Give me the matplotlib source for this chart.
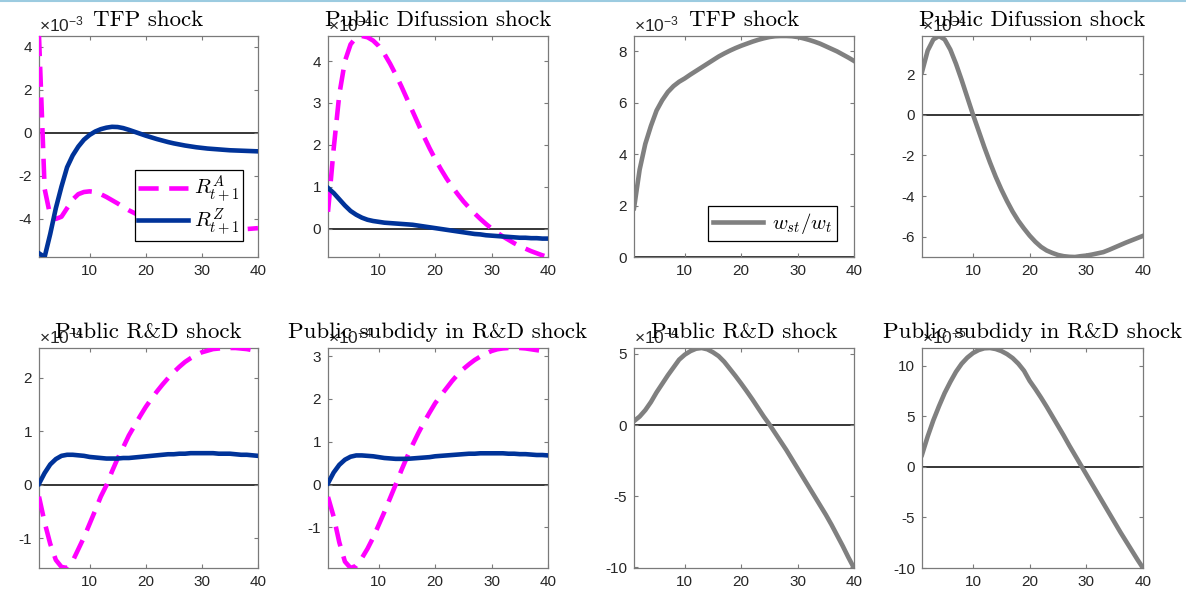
import numpy as np
import matplotlib
matplotlib.use('Agg')
import matplotlib.pyplot as plt
from matplotlib.ticker import MultipleLocator
from matplotlib.lines import Line2D

plt.rcParams['font.family'] = ['Liberation Sans', 'DejaVu Sans']
plt.rcParams['mathtext.fontset'] = 'custom'
plt.rcParams['mathtext.rm'] = 'Liberation Sans'
plt.rcParams['mathtext.it'] = 'Liberation Sans:italic'
plt.rcParams['axes.unicode_minus'] = False

periods = np.arange(1, 41)

# TFP shock, x1e-3
tfp_RA = [4.5, -2.6, -3.85, -4.0, -3.9, -3.5, -3.1, -2.85, -2.75, -2.72,
          -2.75, -2.85, -2.98, -3.13, -3.28, -3.45, -3.6, -3.73, -3.86, -3.97,
          -4.07, -4.16, -4.24, -4.31, -4.37, -4.42, -4.46, -4.49, -4.51, -4.53,
          -4.54, -4.54, -4.54, -4.53, -4.52, -4.50, -4.49, -4.47, -4.45, -4.43]
tfp_RZ = [-5.6, -5.77, -4.7, -3.5, -2.5, -1.6, -1.05, -0.64, -0.32, -0.1,
          0.06, 0.17, 0.24, 0.28, 0.27, 0.22, 0.14, 0.05, -0.04, -0.13,
          -0.21, -0.29, -0.36, -0.43, -0.49, -0.54, -0.59, -0.63, -0.67, -0.70,
          -0.73, -0.75, -0.77, -0.79, -0.81, -0.82, -0.83, -0.84, -0.85, -0.86]
tfp_w = [1.9, 3.4, 4.4, 5.1, 5.7, 6.1, 6.42, 6.65, 6.82, 6.95,
         7.1, 7.24, 7.38, 7.52, 7.66, 7.8, 7.92, 8.03, 8.13, 8.22,
         8.3, 8.38, 8.45, 8.51, 8.56, 8.59, 8.6, 8.6, 8.59, 8.56,
         8.51, 8.45, 8.38, 8.3, 8.2, 8.1, 8.0, 7.88, 7.76, 7.63]

# Public diffusion shock, x1e-4
dif_RA = [0.4, 1.9, 3.2, 4.0, 4.4, 4.57, 4.6, 4.57, 4.49, 4.36,
          4.17, 3.94, 3.68, 3.40, 3.1, 2.8, 2.5, 2.2, 1.92, 1.66,
          1.42, 1.2, 1.0, 0.82, 0.65, 0.5, 0.36, 0.23, 0.11, 0.0,
          -0.1, -0.19, -0.27, -0.35, -0.42, -0.48, -0.54, -0.59, -0.64, -0.68]
dif_RZ = [0.97, 0.85, 0.7, 0.55, 0.42, 0.33, 0.26, 0.21, 0.18, 0.16,
          0.14, 0.13, 0.12, 0.11, 0.1, 0.09, 0.07, 0.05, 0.03, 0.01,
          -0.01, -0.03, -0.05, -0.07, -0.09, -0.11, -0.13, -0.14, -0.16, -0.17,
          -0.18, -0.19, -0.2, -0.21, -0.22, -0.22, -0.23, -0.23, -0.24, -0.24]
dif_w = [2.1, 3.15, 3.7, 3.87, 3.7, 3.2, 2.5, 1.7, 0.85, 0.0,
         -0.8, -1.6, -2.35, -3.05, -3.68, -4.25, -4.77, -5.22, -5.6, -5.95,
         -6.25, -6.5, -6.68, -6.8, -6.9, -6.96, -6.99, -7.0, -6.96, -6.93,
         -6.88, -6.82, -6.76, -6.65, -6.53, -6.41, -6.29, -6.18, -6.07, -5.96]

# Public R&D shock, x1e-4
rd_RA = [-0.22, -0.7, -1.1, -1.4, -1.53, -1.55, -1.42, -1.2, -0.98, -0.73,
         -0.48, -0.22, -0.01, 0.25, 0.49, 0.7, 0.92, 1.1, 1.28, 1.45,
         1.6, 1.74, 1.87, 1.99, 2.1, 2.2, 2.29, 2.36, 2.42, 2.47,
         2.5, 2.53, 2.54, 2.55, 2.55, 2.55, 2.54, 2.53, 2.51, 2.48]
rd_RZ = [0.02, 0.22, 0.38, 0.48, 0.54, 0.56, 0.56, 0.55, 0.54, 0.52,
         0.51, 0.5, 0.49, 0.49, 0.49, 0.5, 0.5, 0.51, 0.52, 0.53,
         0.54, 0.55, 0.56, 0.57, 0.57, 0.58, 0.58, 0.59, 0.59, 0.59,
         0.59, 0.59, 0.58, 0.58, 0.58, 0.57, 0.56, 0.56, 0.55, 0.54]
rd_w = [0.28, 0.6, 1.05, 1.62, 2.3, 2.9, 3.5, 4.05, 4.6, 4.95,
        5.2, 5.37, 5.42, 5.33, 5.12, 4.85, 4.45, 3.95, 3.45, 2.92,
        2.37, 1.8, 1.2, 0.6, 0.05, -0.55, -1.15, -1.75, -2.4, -3.05,
        -3.7, -4.35, -5.0, -5.65, -6.3, -7.0, -7.75, -8.5, -9.3, -10.05]

# Public subsidy in R&D shock, x1e-4 / x1e-5
sub_RA = [-0.29, -0.75, -1.35, -1.8, -1.95, -1.9, -1.72, -1.5, -1.24, -0.94,
          -0.64, -0.32, 0.0, 0.33, 0.64, 0.93, 1.2, 1.45, 1.68, 1.9,
          2.08, 2.25, 2.42, 2.57, 2.7, 2.81, 2.91, 2.99, 3.06, 3.12,
          3.16, 3.18, 3.19, 3.19, 3.19, 3.18, 3.16, 3.14, 3.12, 3.09]
sub_RZ = [0.03, 0.28, 0.46, 0.58, 0.65, 0.68, 0.68, 0.67, 0.66, 0.64,
          0.62, 0.61, 0.6, 0.6, 0.6, 0.61, 0.62, 0.63, 0.64, 0.66,
          0.67, 0.68, 0.69, 0.7, 0.71, 0.72, 0.72, 0.73, 0.73, 0.73,
          0.73, 0.73, 0.72, 0.72, 0.71, 0.71, 0.7, 0.69, 0.69, 0.68]
sub_w = [1.2, 3.0, 4.6, 6.0, 7.3, 8.4, 9.4, 10.2, 10.8, 11.25,
         11.55, 11.72, 11.75, 11.65, 11.45, 11.15, 10.75, 10.2, 9.5, 8.5,
         7.7, 6.85, 5.95, 5.0, 4.05, 3.1, 2.1, 1.15, 0.2, -0.75,
         -1.7, -2.65, -3.6, -4.55, -5.5, -6.45, -7.35, -8.25, -9.15, -10.0]

titles = ['TFP shock', 'Public Difussion shock', 'Public R&D shock',
          'Public subdidy in R&D shock']
exps_R = [-3, -4, -4, -4]
exps_w = [-3, -4, -4, -5]
steps_R = [2, 1, 1, 1]
steps_w = [2, 2, 5, 5]

magenta = '#ff00ff'
navy = '#003399'
grey = '#808080'
spine_col = '#7a7a7a'

W, H = 1186, 601
fig = plt.figure(figsize=(W / 100, H / 100), dpi=100)

cols = [(39, 258), (328, 548), (634, 854), (922, 1143)]
rows = [(36, 257), (348, 568)]


def make_ax(col, row):
    x0, x1 = cols[col]
    y0, y1 = rows[row]
    ax = fig.add_axes([x0 / W, 1 - y1 / H, (x1 - x0) / W, (y1 - y0) / H])
    for s in ax.spines.values():
        s.set_color(spine_col)
        s.set_linewidth(0.9)
    ax.tick_params(direction='in', top=True, right=True, length=3, width=0.8,
                   color=spine_col, labelcolor='#262626', labelsize=11, pad=5)
    return ax


def finish(ax, title, exp, step):
    ax.axhline(0, color='black', lw=1.1, zorder=1)
    ax.set_xlim(1, 40)
    ax.margins(x=0, y=0)
    ax.set_xticks([10, 20, 30, 40])
    ax.yaxis.set_major_locator(MultipleLocator(step))
    ax.set_title(title, fontsize=16.5, pad=7, fontfamily='cmr10')
    ax.text(0, 1.008, '$\\times10^{%d}$' % exp, transform=ax.transAxes,
            fontsize=12.5, color='#262626', ha='left', va='bottom')


R_A = [tfp_RA, dif_RA, rd_RA, sub_RA]
R_Z = [tfp_RZ, dif_RZ, rd_RZ, sub_RZ]
W_ratio = [tfp_w, dif_w, rd_w, sub_w]

for i in range(4):
    row, col = divmod(i, 2)
    ax = make_ax(col, row)
    ax.plot(periods, R_A[i], color=magenta, lw=3.3, ls=(0, (4.4, 2.3)),
            label='$R^A_{t+1}$', zorder=3)
    ax.plot(periods, R_Z[i], color=navy, lw=3.3, label='$R^Z_{t+1}$', zorder=3)
    finish(ax, titles[i], exps_R[i], steps_R[i])
    if i == 0:
        leg = ax.legend(loc='lower right', bbox_to_anchor=(0.93, 0.072),
                        borderaxespad=0, fontsize=15, handlelength=2.4,
                        fancybox=False, edgecolor='black', framealpha=1,
                        borderpad=0.15, labelspacing=0.05, handletextpad=0.3)
        leg.get_frame().set_linewidth(0.9)
        for t in leg.get_texts():
            t.set_math_fontfamily('cm')

    ax = make_ax(col + 2, row)
    ax.plot(periods, W_ratio[i], color=grey, lw=3.3, label='$w_{st}/w_t$', zorder=3)
    finish(ax, titles[i], exps_w[i], steps_w[i])
    if i == 0:
        leg = ax.legend(loc='lower right', bbox_to_anchor=(0.924, 0.072),
                        borderaxespad=0, fontsize=15, handlelength=2.4,
                        fancybox=False, edgecolor='black', framealpha=1,
                        borderpad=0.25, handletextpad=0.4)
        leg.get_frame().set_linewidth(0.9)
        for t in leg.get_texts():
            t.set_math_fontfamily('cm')

fig.add_artist(Line2D([0, 1], [1 - 1 / H, 1 - 1 / H], transform=fig.transFigure,
                      color='#9ccbe0', lw=1.5))

fig.savefig('out.png', dpi=100)
